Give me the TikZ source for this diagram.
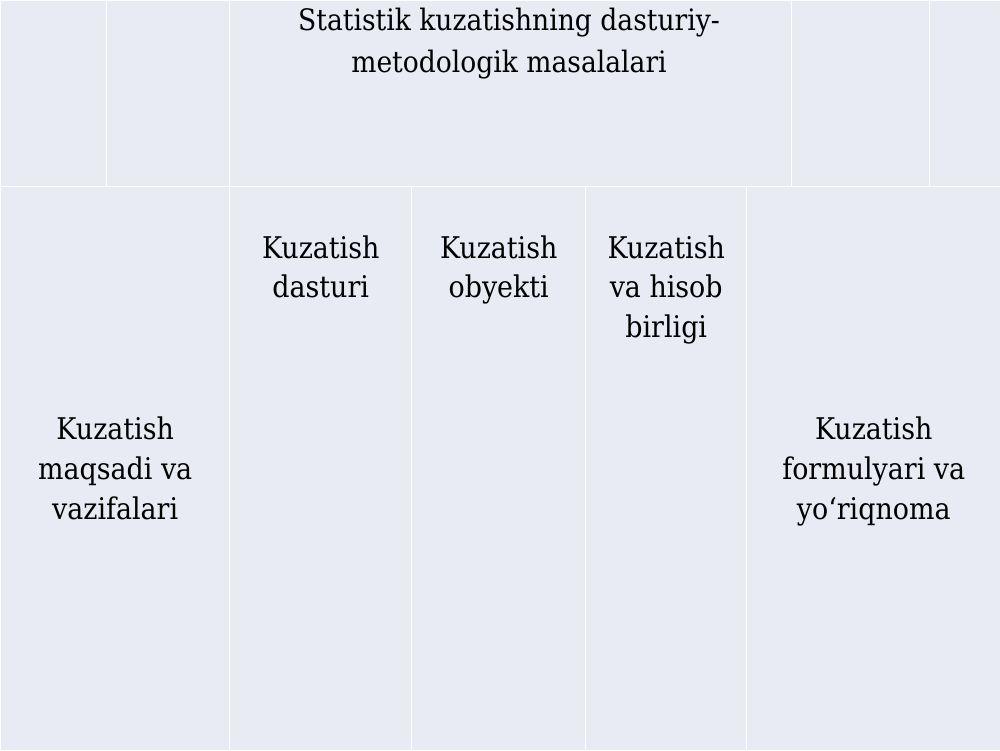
\documentclass[tikz,border=0pt]{standalone}
\usepackage{fontspec}
\setmainfont{DejaVu Serif Condensed}
\usepackage{tikz}
\definecolor{cellbg}{RGB}{232,235,243}
\tikzset{
  cell/.style={draw=white, line width=0.8pt, fill=cellbg, inner sep=0pt, anchor=north west},
  lbl/.style={align=center, inner sep=0pt, font=\fontsize{17}{22.7}\selectfont}
}

\begin{document}
\begin{tikzpicture}
  \useasboundingbox (0,0) rectangle (20,15);
  \fill[cellbg] (0,0) rectangle (20,15);
  % top row
  \node[cell, minimum width=2.12cm, minimum height=3.72cm] (ta) at (0,15) {};
  \node[cell, minimum width=2.46cm, minimum height=3.72cm] (tb) at (2.12,15) {};
  \node[cell, minimum width=11.24cm, minimum height=3.72cm] (tc) at (4.58,15) {};
  \node[cell, minimum width=2.76cm, minimum height=3.72cm] (td) at (15.82,15) {};
  \node[cell, minimum width=1.42cm, minimum height=3.72cm] (te) at (18.58,15) {};
  % bottom row
  \node[cell, minimum width=4.58cm, minimum height=11.28cm] (ba) at (0,11.28) {};
  \node[cell, minimum width=3.64cm, minimum height=11.28cm] (bb) at (4.58,11.28) {};
  \node[cell, minimum width=3.48cm, minimum height=11.28cm] (bc) at (8.22,11.28) {};
  \node[cell, minimum width=3.22cm, minimum height=11.28cm] (bd) at (11.70,11.28) {};
  \node[cell, minimum width=5.08cm, minimum height=11.28cm] (be) at (14.92,11.28) {};
  % labels
  \node[lbl, anchor=north, font=\fontsize{16.8}{23.6}\selectfont] (title) at (10.18,14.84) {Statistik kuzatishning dasturiy-\\metodologik masalalari};
  \node[lbl] (maqsad) at (ba.center) {Kuzatish\\maqsadi va\\vazifalari};
  \node[lbl, anchor=north] (dastur) at ([yshift=-0.98cm]bb.north) {Kuzatish\\dasturi};
  \node[lbl, anchor=north] (obyekt) at ([yshift=-0.98cm]bc.north) {Kuzatish\\obyekti};
  \node[lbl, anchor=north] (birlik) at ([yshift=-0.98cm]bd.north) {Kuzatish\\va hisob\\birligi};
  \node[lbl] (formulyar) at ([yshift=-0.06cm]be.center) {Kuzatish\\formulyari va\\yo‘riqnoma};
\end{tikzpicture}
\end{document}
